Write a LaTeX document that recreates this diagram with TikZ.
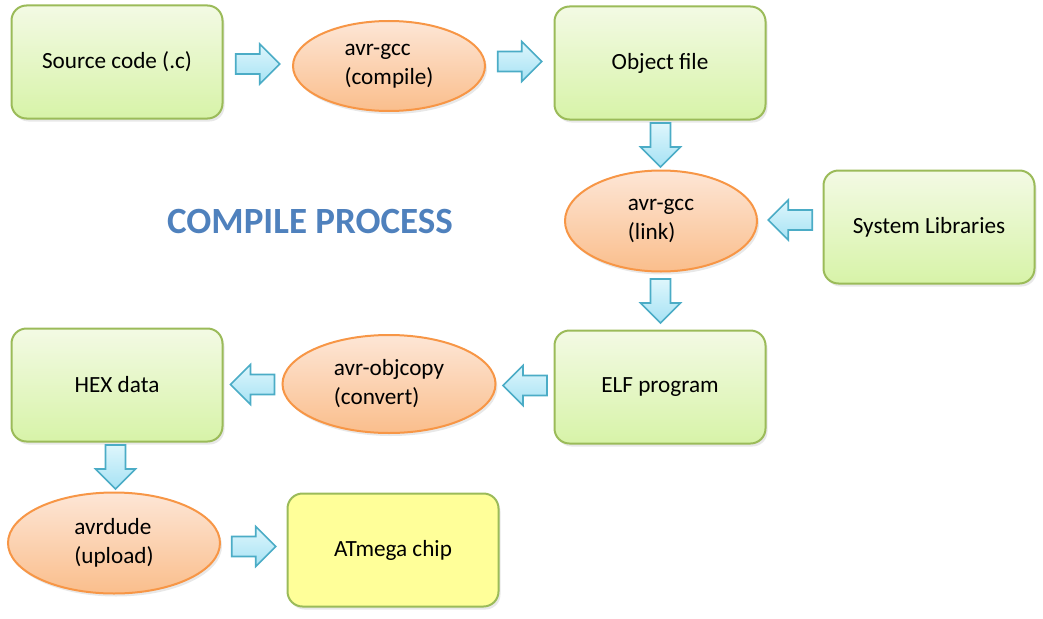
\documentclass[tikz,border=0pt]{standalone}
\usepackage{fontspec}
\setmainfont{Carlito}
\usetikzlibrary{shapes.geometric,calc,shadows}
\definecolor{boxline}{RGB}{155,187,89}
\definecolor{boxtop}{RGB}{243,250,228}
\definecolor{boxbot}{RGB}{215,243,168}
\definecolor{ovaltop}{RGB}{253,230,214}
\definecolor{ovalbot}{RGB}{250,190,140}
\definecolor{ovalline}{RGB}{247,150,70}
\definecolor{arrtop}{RGB}{222,246,252}
\definecolor{arrbot}{RGB}{166,226,244}
\definecolor{arrline}{RGB}{75,172,198}
\definecolor{chipfill}{RGB}{255,255,153}
\definecolor{titleblue}{RGB}{79,129,189}
\tikzset{
  softshadow/.style={drop shadow={opacity=0.18, shadow xshift=2pt, shadow yshift=-3pt}},
  stepbox/.style={draw=boxline, line width=2pt, rounded corners=15pt,
    top color=boxtop, bottom color=boxbot, minimum width=211pt,
    minimum height=113pt, softshadow},
  chipbox/.style={stepbox, top color=chipfill, bottom color=chipfill},
  tool/.style={ellipse, draw=ovalline, line width=2pt, top color=ovaltop,
    bottom color=ovalbot, align=left, inner sep=0pt, softshadow},
  barrow/.pic={
    \draw[arrline, line width=1.6pt, top color=arrtop, bottom color=arrbot]
      (-22,-10) -- (2,-10) -- (2,-20) -- (22,0) -- (2,20) -- (2,10)
      -- (-22,10) -- cycle;
  }
}

\begin{document}
\begin{tikzpicture}[x=1pt,y=-1pt,
every node/.style={font=\fontsize{23.2}{29}\selectfont}]
\useasboundingbox (0,0) rectangle (1043,618);
% steps
\node[stepbox] (src) at (117,62) {Source code (.c)};
\node[tool, minimum width=192pt, minimum height=90pt] (comp) at (389,66) {avr-gcc\\(compile)};
\node[stepbox] (obj) at (660,63) {Object file};
\node[tool, minimum width=192pt, minimum height=101pt] (link) at (661,221) {avr-gcc\\(link)};
\node[stepbox] (lib) at (929,227) {System Libraries};
\node[stepbox] (elf) at (660,387) {ELF program};
\node[tool, minimum width=213pt, minimum height=98pt] (objc) at (389,384) {avr-objcopy\\(convert)};
\node[stepbox] (hex) at (117,385) {HEX data};
\node[tool, minimum width=212pt, minimum height=101pt] (dude) at (114,543) {avrdude\\(upload)};
\node[chipbox] (chip) at (393,550) {ATmega chip};
\node[text=titleblue, font=\fontsize{37}{42}\selectfont\bfseries] (title) at (310,221) {COMPILE PROCESS};
% block arrows
\pic at ($(src.east)!0.5!(comp.west)$) {barrow};
\pic at ($(comp.east)!0.5!(obj.west)+(0,-3)$) {barrow};
\pic[rotate=-90] at ($(obj.south)!0.5!(link.north)$) {barrow};
\pic[rotate=180] at ($(lib.west)!0.5!(link.east)+(0,-4)$) {barrow};
\pic[rotate=-90] at ($(link.south)!0.5!(elf.north)$) {barrow};
\pic[rotate=180] at ($(elf.west)!0.5!(objc.east)$) {barrow};
\pic[rotate=180] at ($(objc.west)!0.5!(hex.east)$) {barrow};
\pic[rotate=-90] at ($(hex.south)!0.5!(dude.north)$) {barrow};
\pic at ($(dude.east)!0.5!(chip.west)$) {barrow};
\end{tikzpicture}
\end{document}
